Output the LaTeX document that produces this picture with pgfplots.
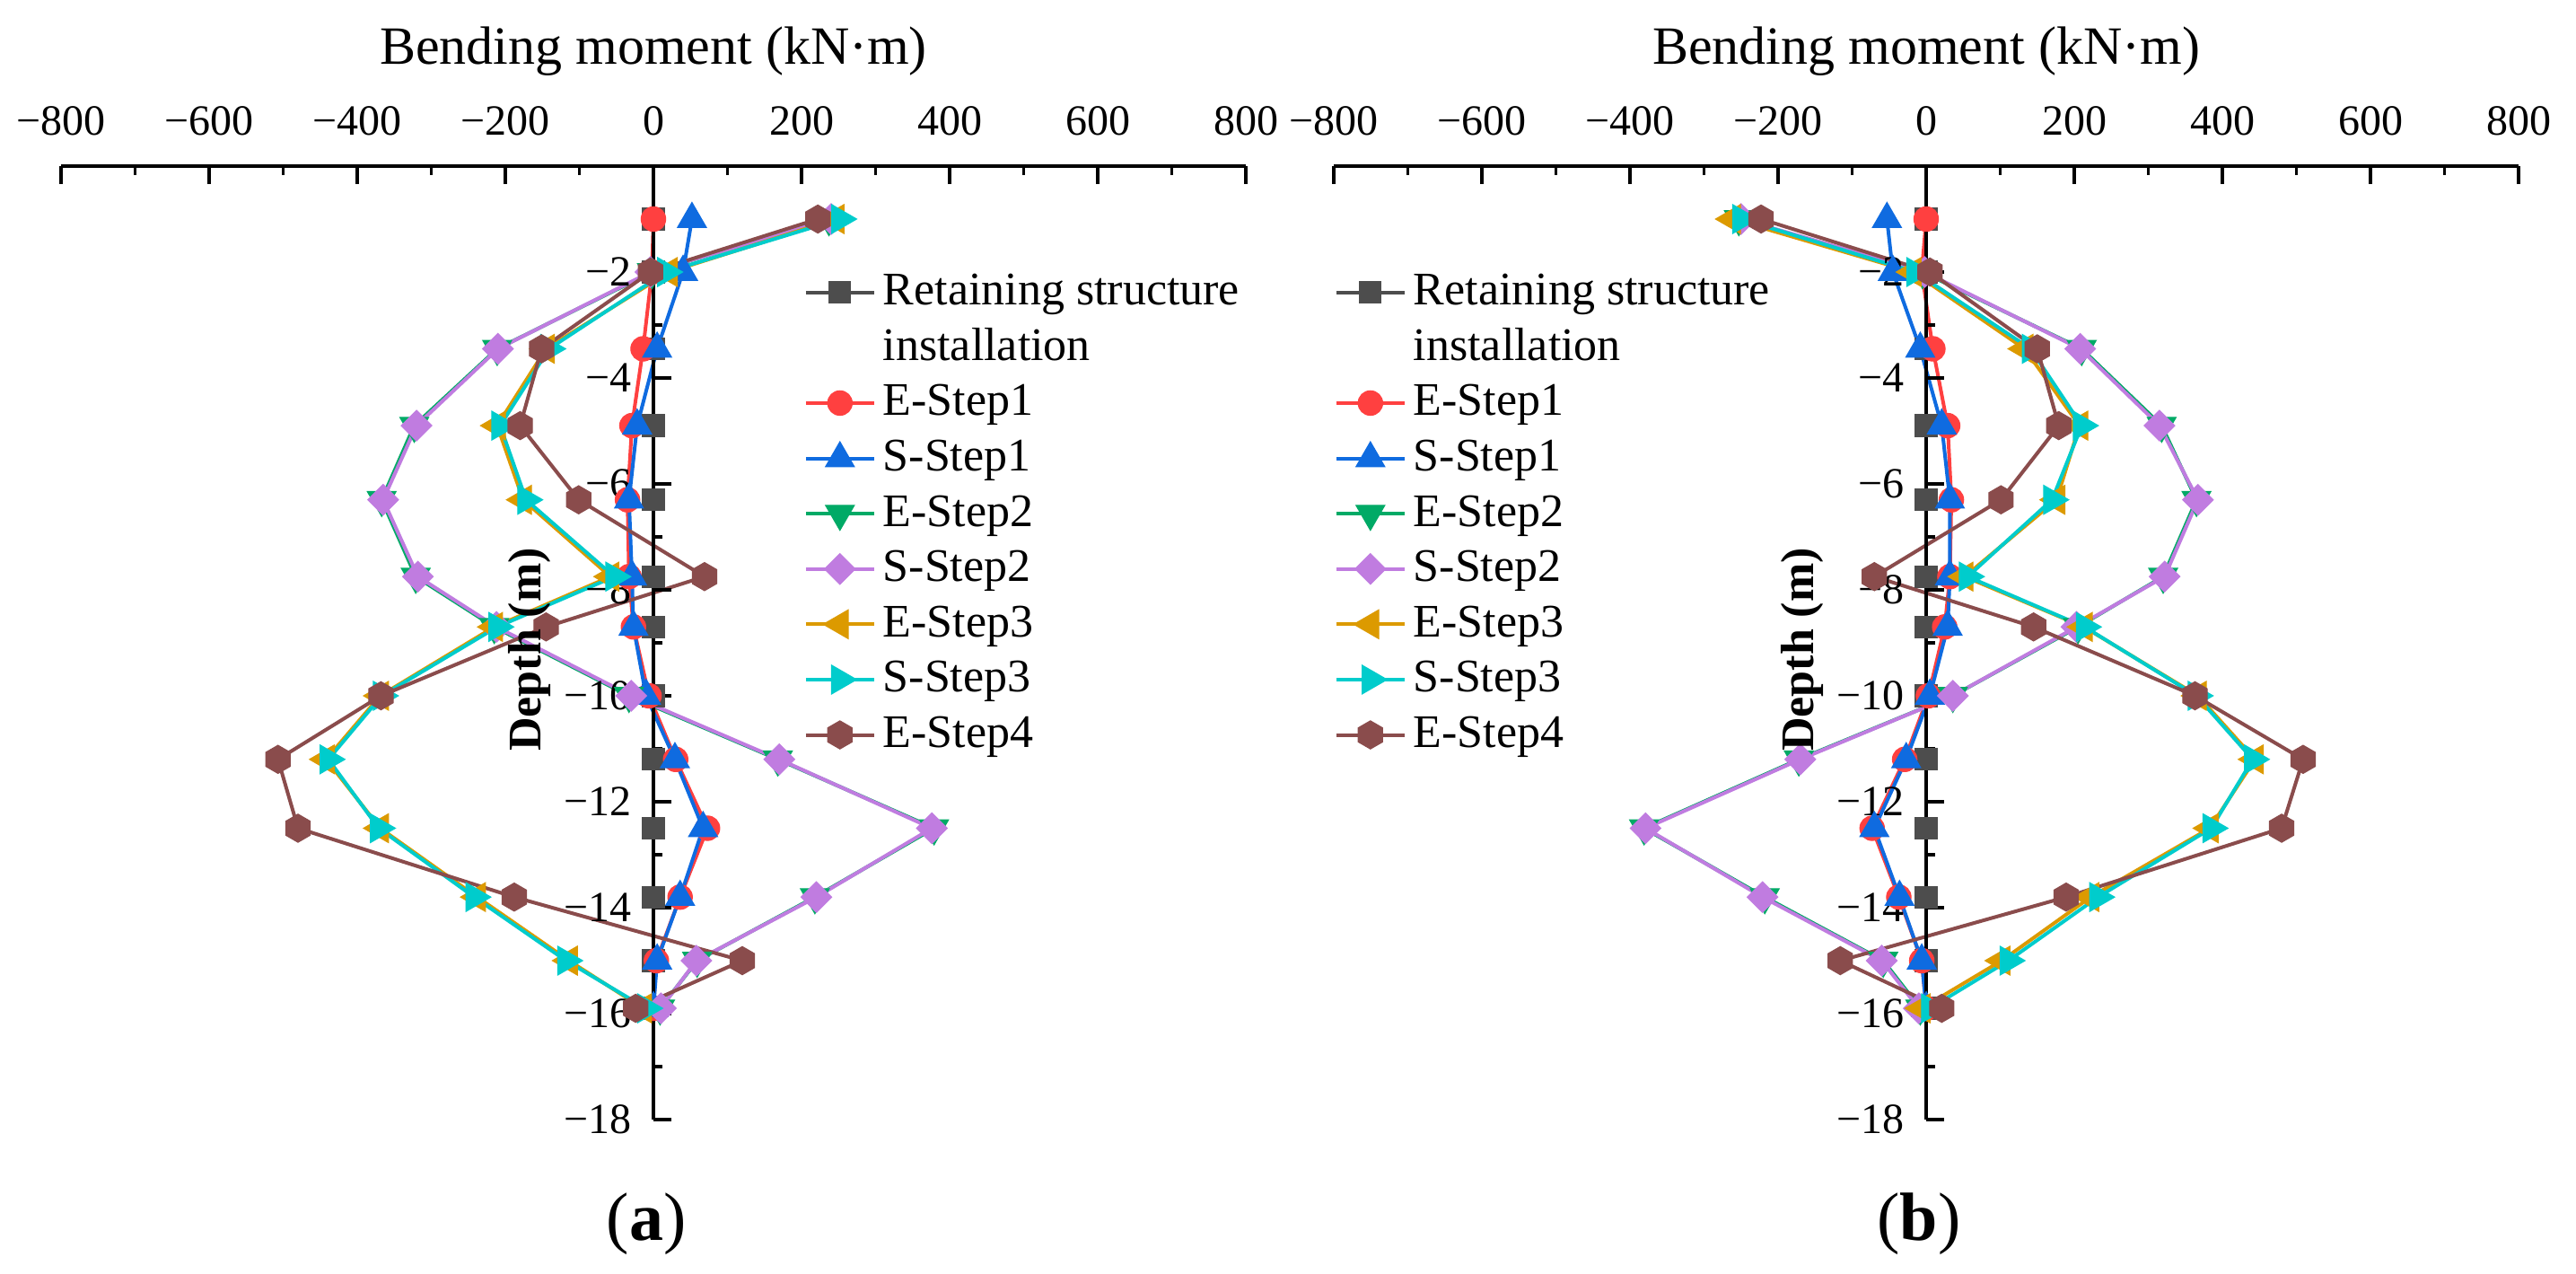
\documentclass[border=0pt]{standalone}
\usepackage{fontspec}
\setmainfont{Liberation Serif}
\usepackage{pgfplots}
\usepackage{pgfplotstable}
\pgfplotsset{compat=1.18}

\definecolor{cret}{HTML}{4D4D4D}
\definecolor{ceone}{HTML}{FF4040}
\definecolor{csone}{HTML}{0F6BE0}
\definecolor{cetwo}{HTML}{00AA66}
\definecolor{cstwo}{HTML}{C07CE0}
\definecolor{cethree}{HTML}{DC9A00}
\definecolor{csthree}{HTML}{00CCCC}
\definecolor{cefour}{HTML}{8A4C4C}

% hexagon mark, pointy top
\pgfdeclareplotmark{hexagon*}{%
  \pgfpathmoveto{\pgfqpointpolar{90}{\pgfplotmarksize}}%
  \pgfpathlineto{\pgfqpointpolar{150}{\pgfplotmarksize}}%
  \pgfpathlineto{\pgfqpointpolar{210}{\pgfplotmarksize}}%
  \pgfpathlineto{\pgfqpointpolar{270}{\pgfplotmarksize}}%
  \pgfpathlineto{\pgfqpointpolar{330}{\pgfplotmarksize}}%
  \pgfpathlineto{\pgfqpointpolar{30}{\pgfplotmarksize}}%
  \pgfpathclose
  \pgfusepathqfillstroke}

% panel (a)
\pgfplotstableread{
d      ret  e1   s1   e2    s2    e3    s3    e4
-1     0    0    52   237   240   246   252   222
-2     0    -2   40   -2    -4    21    17    -4
-3.45  0    -14  5    -211  -210  -145  -141  -151
-4.9   0    -29  -22  -323  -320  -211  -207  -180
-6.3   0    -35  -33  -367  -365  -176  -172  -101
-7.75  0    -33  -29  -321  -318  -58   -53   69
-8.7   0    -27  -27  -215  -212  -215  -211  -145
-10    0    -6   -10  -33   -30   -369  -367  -368
-11.2  0    30   29   168   170   -442  -439  -507
-12.5  0    73   67   379   376   -369  -371  -480
-13.8  0    36   36   218   220   -238  -242  -188
-15    0    4    5    59    58    -114  -118  120
-15.9  0    0    0    9     10    -14   -10   -24
}\tablea

% panel (b)
\pgfplotstableread{
d      ret  e1   s1   e2    s2    e3    s3    e4
-1     0    0    -53  -253  -250  -262  -250  -223
-2     0    -6   -45  -5    -2    -18   -15   5
-3.45  0    9    -8   210   208   133   141   150
-4.9   0    29   21   318   315   207   210   179
-6.3   0    34   32   365   367   176   170   101
-7.75  0    32   32   320   322   52    56    -70
-8.7   0    25   29   205   203   213   214   145
-10    0    3    5    36    36    367   365   363
-11.2  0    -29  -27  -172  -170  444   441   509
-12.5  0    -73  -70  -381  -379  383   385   480
-13.8  0    -37  -36  -218  -221  222   232   189
-15    0    -6   -6   -58   -60   102   111   -116
-15.9  0    0    0    -8    -10   -6    5     21
}\tableb

\pgfplotsset{
  bm/.style={
    scale only axis, width=330pt, height=265.5pt,
    xmin=-800, xmax=800, ymin=-18, ymax=0,
    axis x line*=top, axis y line*=middle,
    axis on top, clip=false,
    xtick={-800,-600,...,800},
    xticklabels={−800,−600,−400,−200,0,200,400,600,800},
    minor xtick={-700,-500,...,700},
    ytick={-18,-16,...,-2},
    yticklabels={−18,−16,−14,−12,−10,−8,−6,−4,−2},
    minor ytick={-17,-15,...,-1},
    xtick align=inside, ytick align=inside,
    major tick length=5pt, minor tick length=2.5pt,
    tick style={black, line width=0.9pt},
    axis line style={black, line width=0.9pt},
    tick label style={font=\fontsize{12}{14}\selectfont},
    xticklabel style={inner sep=0pt, anchor=south, yshift=8.25pt},
    yticklabel style={inner sep=0pt, anchor=east, xshift=-6pt},
    xlabel={Bending moment (kN·m)},
    every axis x label/.style={at={(axis description cs:0.5,1)}, anchor=base,
      yshift=28.25pt, inner sep=0pt, font=\fontsize{15}{18}\selectfont},
    ylabel={Depth (m)},
    every axis y label/.style={at={(axis description cs:0.405,0.493)}, rotate=90,
      anchor=base, inner sep=0pt, font=\bfseries\fontsize{13}{16}\selectfont},
    legend cell align=left,
    legend image code/.code={\draw[mark repeat=2,mark phase=2,##1]
      plot coordinates {(0pt,0pt) (9.5pt,0pt) (19pt,0pt)};},
    legend style={anchor=north west, draw=none, fill=none, inner sep=0pt,
      row sep=2.4pt, column sep=2pt, font=\fontsize{13}{15}\selectfont,
      nodes={inner sep=0pt, text height=10pt, text depth=3pt}},
  },
  sret/.style={cret, line width=1pt, mark=square*, mark size=3pt,
    mark options={solid, fill=cret, line width=0.3pt}},
  seone/.style={ceone, line width=1pt, mark=*, mark size=3.4pt,
    mark options={solid, fill=ceone, line width=0.3pt}},
  ssone/.style={csone, line width=1pt, mark=triangle*, mark size=4.6pt,
    mark options={solid, fill=csone, line width=0.3pt}},
  setwo/.style={cetwo, line width=1pt, mark=triangle*, mark size=4.6pt,
    mark options={solid, fill=cetwo, line width=0.3pt, rotate=180}},
  sstwo/.style={cstwo, line width=1pt, mark=square*, mark size=3pt,
    mark options={solid, fill=cstwo, line width=0.3pt, rotate=45}},
  sethree/.style={cethree, line width=1pt, mark=triangle*, mark size=4.6pt,
    mark options={solid, fill=cethree, line width=0.3pt, rotate=90}},
  ssthree/.style={csthree, line width=1pt, mark=triangle*, mark size=4.6pt,
    mark options={solid, fill=csthree, line width=0.3pt, rotate=-90}},
  sefour/.style={cefour, line width=1pt, mark=hexagon*, mark size=3.9pt,
    mark options={solid, fill=cefour, line width=0.3pt}},
}

\begin{document}
\begin{tikzpicture}
\useasboundingbox (0pt,0pt) rectangle (717.5pt,-354.75pt);

\begin{axis}[bm, at={(17pt,-46.25pt)}, anchor=north west,
  legend style={at={(axis description cs:0.6265,0.8927)}}]
\addplot[sret] table[x=ret, y=d] {\tablea};
\addlegendentry{Retaining structure}
\addlegendimage{empty legend}
\addlegendentry{installation}
\addplot[seone] table[x=e1, y=d] {\tablea};
\addlegendentry{E-Step1}
\addplot[ssone] table[x=s1, y=d] {\tablea};
\addlegendentry{S-Step1}
\addplot[setwo] table[x=e2, y=d] {\tablea};
\addlegendentry{E-Step2}
\addplot[sstwo] table[x=s2, y=d] {\tablea};
\addlegendentry{S-Step2}
\addplot[sethree] table[x=e3, y=d] {\tablea};
\addlegendentry{E-Step3}
\addplot[ssthree] table[x=s3, y=d] {\tablea};
\addlegendentry{S-Step3}
\addplot[sefour] table[x=e4, y=d] {\tablea};
\addlegendentry{E-Step4}
\end{axis}

\begin{axis}[bm, at={(371.5pt,-46.25pt)}, anchor=north west,
  legend style={at={(axis description cs:0.0,0.8927)}}]
\addplot[sret] table[x=ret, y=d] {\tableb};
\addlegendentry{Retaining structure}
\addlegendimage{empty legend}
\addlegendentry{installation}
\addplot[seone] table[x=e1, y=d] {\tableb};
\addlegendentry{E-Step1}
\addplot[ssone] table[x=s1, y=d] {\tableb};
\addlegendentry{S-Step1}
\addplot[setwo] table[x=e2, y=d] {\tableb};
\addlegendentry{E-Step2}
\addplot[sstwo] table[x=s2, y=d] {\tableb};
\addlegendentry{S-Step2}
\addplot[sethree] table[x=e3, y=d] {\tableb};
\addlegendentry{E-Step3}
\addplot[ssthree] table[x=s3, y=d] {\tableb};
\addlegendentry{S-Step3}
\addplot[sefour] table[x=e4, y=d] {\tableb};
\addlegendentry{E-Step4}
\end{axis}

\node[font=\fontsize{19}{22}\selectfont] at (180pt,-340.75pt) {(\textbf{a})};
\node[font=\fontsize{19}{22}\selectfont] at (534.5pt,-340.75pt) {(\textbf{b})};
\end{tikzpicture}
\end{document}
